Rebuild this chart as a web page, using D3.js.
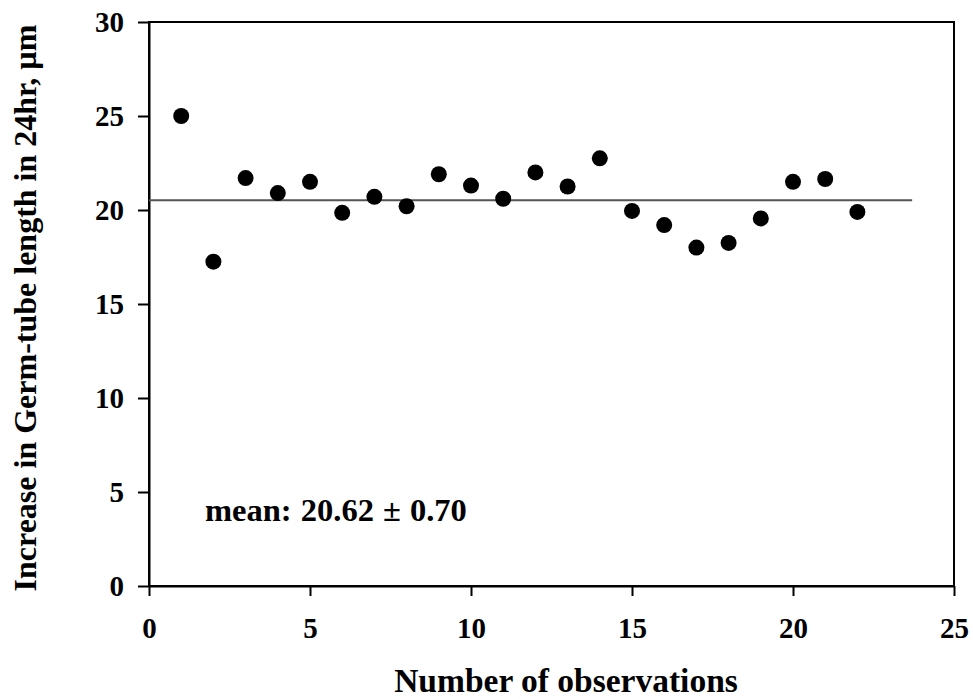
<!DOCTYPE html>
<html lang="en">
<head>
  <meta charset="UTF-8">
  <title>Germ-tube length</title>
  <style>
    body { margin: 0; background: #fff; }
    text { font-family: "Liberation Serif", "Times New Roman", serif; font-weight: bold; }
  </style>
  <script src="https://cdn.jsdelivr.net/npm/d3@7/dist/d3.min.js"></script>
</head>
<body>
  <script>
    // observation number and increase in germ-tube length (um)
    var obs = [1, 2, 3, 4, 5, 6, 7, 8, 9, 10, 11, 12, 13, 14, 15, 16, 17, 18, 19, 20, 21, 22];
    var growth = [25.0, 17.25, 21.7, 20.9, 21.5, 19.85, 20.7, 20.2, 21.9, 21.3, 20.6,
                  22.0, 21.25, 22.75, 19.95, 19.2, 18.0, 18.25, 19.55, 21.5, 21.65, 19.9];
    var meanLine = { value: 20.52, from: 0, to: 23.7 };
    var xTicks = [0, 5, 10, 15, 20, 25];
    var yTicks = [0, 5, 10, 15, 20, 25, 30];

    var W = 973, H = 699;
    var m = { left: 149, right: 954, top: 22, bottom: 586 };

    var svg = d3.select("body").append("svg")
      .attr("width", W).attr("height", H);

    var x = d3.scaleLinear().domain([0, 25]).range([m.left, m.right]);
    var y = d3.scaleLinear().domain([0, 30]).range([m.bottom, m.top]);

    // frame
    svg.append("rect")
      .attr("x", m.left).attr("y", m.top)
      .attr("width", m.right - m.left).attr("height", m.bottom - m.top)
      .attr("fill", "none").attr("stroke", "#000").attr("stroke-width", 2);

    // axes
    var xAxis = svg.append("g")
      .attr("transform", "translate(0," + m.bottom + ")")
      .call(d3.axisBottom(x).tickValues(xTicks).tickSize(10).tickPadding(21).tickSizeOuter(0));
    var yAxis = svg.append("g")
      .attr("transform", "translate(" + m.left + ",0)")
      .call(d3.axisLeft(y).tickValues(yTicks).tickSize(11).tickPadding(14).tickSizeOuter(0));

    [xAxis, yAxis].forEach(function(g) {
      g.select(".domain").attr("stroke", "#000").attr("stroke-width", 2);
      g.selectAll(".tick line").attr("stroke", "#000").attr("stroke-width", 2);
      g.selectAll(".tick text")
        .attr("fill", "#000")
        .style("font-family", "'Liberation Serif', serif")
        .style("font-weight", "bold")
        .style("font-size", "29px");
    });

    // mean line
    svg.append("line")
      .attr("x1", x(meanLine.from)).attr("x2", x(meanLine.to))
      .attr("y1", y(meanLine.value)).attr("y2", y(meanLine.value))
      .attr("stroke", "#555").attr("stroke-width", 2);

    // points
    svg.selectAll("circle.pt")
      .data(obs)
      .enter().append("circle")
      .attr("class", "pt")
      .attr("cx", function(d) { return x(d); })
      .attr("cy", function(d, i) { return y(growth[i]); })
      .attr("r", 8)
      .attr("fill", "#000");

    // annotation
    svg.append("text")
      .attr("x", 205).attr("y", 521)
      .style("font-size", "32.5px")
      .style("word-spacing", "1px")
      .text("mean: 20.62 \u00b1 0.70");

    // axis titles
    svg.append("text")
      .attr("x", 566).attr("y", 692)
      .attr("text-anchor", "middle")
      .style("font-size", "33.5px")
      .text("Number of observations");

    svg.append("text")
      .attr("transform", "translate(36,308)rotate(-90)")
      .attr("text-anchor", "middle")
      .style("font-size", "32px")
      .text("Increase in Germ-tube length in 24hr, \u00b5m");
  </script>
</body>
</html>
